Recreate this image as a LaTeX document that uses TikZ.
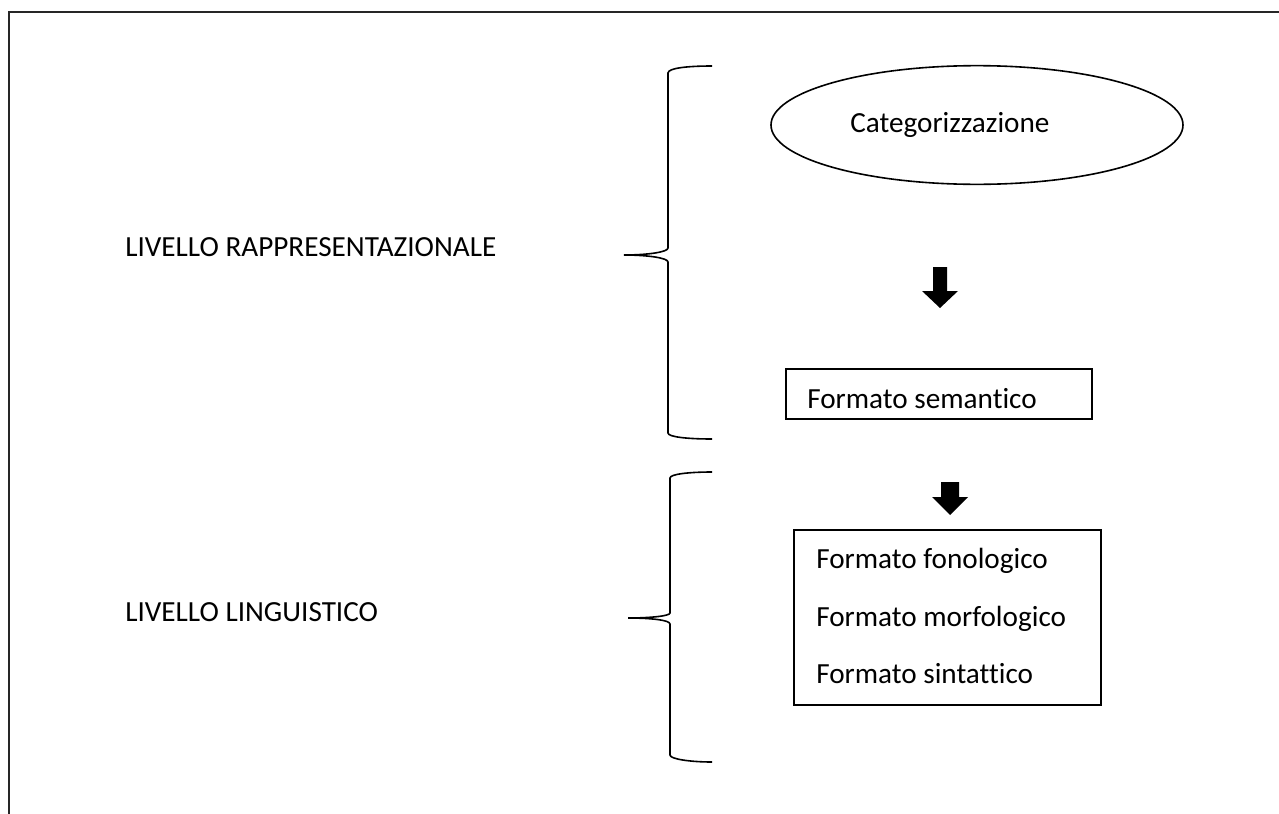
\documentclass[tikz,border=0pt]{standalone}
\usepackage{fontspec}
\setmainfont[Ligatures=NoCommon]{Carlito}
\usetikzlibrary{shapes.geometric}
\tikzset{
  frameline/.style={line width=1.5pt, black!85},
  bracel/.style={line width=1.2pt},
  boxline/.style={line width=1.1pt},
  lbl/.style={inner sep=0pt, font=\fontsize{21.9pt}{26pt}\selectfont},
  blockarr/.style={fill=black, draw=none},
}
\begin{document}
\begin{tikzpicture}[x=0.75pt,y=-0.75pt]
\useasboundingbox (0,0) rectangle (1279,814);
% open frame: top and left edges
\draw[frameline] (9,814) -- (9,12) -- (1279,12);

% level labels
\node[lbl, anchor=base west] (rapp) at (125,256) {LIVELLO RAPPRESENTAZIONALE};
\node[lbl, anchor=base west] (ling) at (125,621) {LIVELLO LINGUISTICO};

% upper brace
\draw[bracel] (712,66) .. controls (688,66) and (668,68) .. (668,73)
  -- (668,248) .. controls (668,252) and (648,255) .. (624,255)
  .. controls (648,255) and (668,258) .. (668,262)
  -- (668,433) .. controls (668,437) and (688,439) .. (712,439);
% lower brace
\draw[bracel] (712,472) .. controls (690,472) and (670,474) .. (670,478)
  -- (670,613) .. controls (670,616) and (650,618) .. (628,618)
  .. controls (650,618) and (670,620) .. (670,624)
  -- (670,755) .. controls (670,759) and (690,762) .. (712,762);

% categorisation ellipse (412 x 120 px)
\node[ellipse, draw, line width=1.2pt, inner sep=0pt, minimum width=309pt, minimum height=89pt] (cat) at (977,125) {};
\node[lbl, anchor=base west] (cattxt) at (850,132) {Categorizzazione};

% semantic format box
\draw[boxline] (786,369) rectangle (1092,419);
\node[lbl, anchor=base west] (sem) at (807,408) {Formato semantico};

% linguistic formats box
\draw[boxline] (794,530) rectangle (1101,705);
\node[lbl, anchor=base west] (fon) at (816,568) {Formato fonologico};
\node[lbl, anchor=base west] (mor) at (816,626) {Formato morfologico};
\node[lbl, anchor=base west] (sin) at (816,683) {Formato sintattico};

% block arrows
\fill[blockarr] (933,267) -- (947,267) -- (947,291) -- (958,291) -- (940,308)
  -- (922,291) -- (933,291) -- cycle;
\fill[blockarr] (941,482) -- (959,482) -- (959,497) -- (968,497) -- (950,515)
  -- (932,497) -- (941,497) -- cycle;
\end{tikzpicture}
\end{document}
